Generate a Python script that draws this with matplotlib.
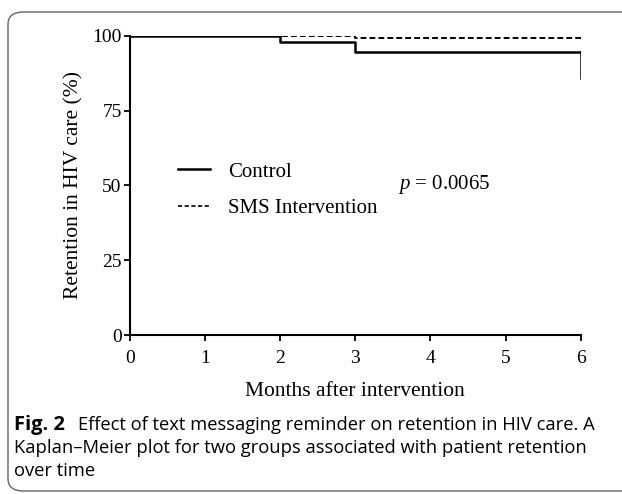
import matplotlib
matplotlib.use("Agg")
import matplotlib.pyplot as plt
from matplotlib.patches import FancyBboxPatch
from matplotlib.lines import Line2D

plt.rcParams["mathtext.fontset"] = "custom"
plt.rcParams["mathtext.it"] = "Liberation Serif:italic"
plt.rcParams["mathtext.rm"] = "Liberation Serif"

# Data
months = [0, 2, 3, 6]
control = [100, 97.8, 94.6, 94.6]
control_end = 85.8
sms = [100, 100, 99.1, 99.1]
xticks = [0, 1, 2, 3, 4, 5, 6]
yticks = [0, 25, 50, 75, 100]
series_labels = ["Control", "SMS Intervention"]
p_text = "0.0065"
caption_bold = "Fig. 2"
caption_lines = ["Effect of text messaging reminder on retention in HIV care. A",
                 "Kaplan–Meier plot for two groups associated with patient retention",
                 "over time"]

W, H = 622, 494
fig = plt.figure(figsize=(W / 100, H / 100), dpi=100)
fig.patch.set_facecolor("white")

def fx(px):
    return px / W

def fy(py):
    return 1 - py / H

# frame
frame = FancyBboxPatch((fx(8), fy(491)), (W + 40) / W, (491 - 12) / H,
                       boxstyle="round,pad=0,rounding_size=0.025",
                       transform=fig.transFigure, fill=False,
                       edgecolor="#666666", linewidth=1.0, clip_on=False)
fig.patches.append(frame)

ax_l, ax_r, ax_t, ax_b = 130, 580.7, 35.7, 335
ax = fig.add_axes([fx(ax_l), fy(ax_b), (ax_r - ax_l) / W, (ax_b - ax_t) / H])
serif = "Liberation Serif"

ax.step(months, sms, where="post", color="black", lw=1.4, linestyle=(0, (3, 1.6)))
ax.step(months, control, where="post", color="black", lw=1.8, solid_capstyle="butt")
ax.plot([months[-1], months[-1]], [control[-1], control_end], color="black", lw=1.8)

ax.set_xlim(0, 6)
ax.set_ylim(0, 100)
ax.set_xticks(xticks)
ax.set_yticks(yticks)
ax.set_xticklabels([str(t) for t in xticks], fontfamily=serif, fontsize=14)
ax.set_yticklabels([str(t) for t in yticks], fontfamily=serif, fontsize=14)
ax.tick_params(direction="out", length=4, width=1.3)
ax.tick_params(axis="x", pad=7)
ax.tick_params(axis="y", pad=2)
for s in ["top", "right"]:
    ax.spines[s].set_visible(False)
for s in ["left", "bottom"]:
    ax.spines[s].set_linewidth(1.5)

ax.set_xlabel("Months after intervention", fontfamily=serif, fontsize=15.5)
ax.xaxis.label.set_va("baseline")
ax.xaxis.set_label_coords(0.5, -(396 - ax_b) / (ax_b - ax_t))
ax.set_ylabel("Retention in HIV care (%)", fontfamily=serif, fontsize=15.5, labelpad=6)

# legend
handles = [Line2D([], [], color="black", lw=1.8),
           Line2D([], [], color="black", lw=1.2, linestyle=(0, (2.5, 1.5)))]
leg = ax.legend(handles, series_labels, loc="upper left",
                bbox_to_anchor=((178 - ax_l) / (ax_r - ax_l), (ax_b - 162) / (ax_b - ax_t)),
                frameon=False, prop={"family": serif, "size": 15},
                handlelength=1.55, handletextpad=0.85, labelspacing=0.8, borderaxespad=0,
                borderpad=0)

fig.text(fx(398), fy(189), "$p$ = " + p_text, fontsize=15, fontfamily=serif,
         va="baseline", ha="left")

# caption
cap_font = "Open Sans"
baselines = [430, 453, 476]
renderer = fig.canvas.get_renderer()
probe = fig.text(0, 0, caption_lines[1], fontfamily=cap_font, fontsize=12)
wpx = probe.get_window_extent(renderer).width
probe.remove()
cap_size = 12 * (583 - 14) / wpx

fig.text(fx(14), fy(baselines[0]), caption_bold, fontfamily=cap_font, fontweight="bold",
         fontsize=cap_size * 1.1, va="baseline", ha="left")
fig.text(fx(78), fy(baselines[0]), caption_lines[0], fontfamily=cap_font,
         fontsize=cap_size, va="baseline", ha="left")
fig.text(fx(14), fy(baselines[1]), caption_lines[1], fontfamily=cap_font,
         fontsize=cap_size, va="baseline", ha="left")
fig.text(fx(14), fy(baselines[2]), caption_lines[2], fontfamily=cap_font,
         fontsize=cap_size, va="baseline", ha="left")

fig.savefig("out.png", dpi=100)
